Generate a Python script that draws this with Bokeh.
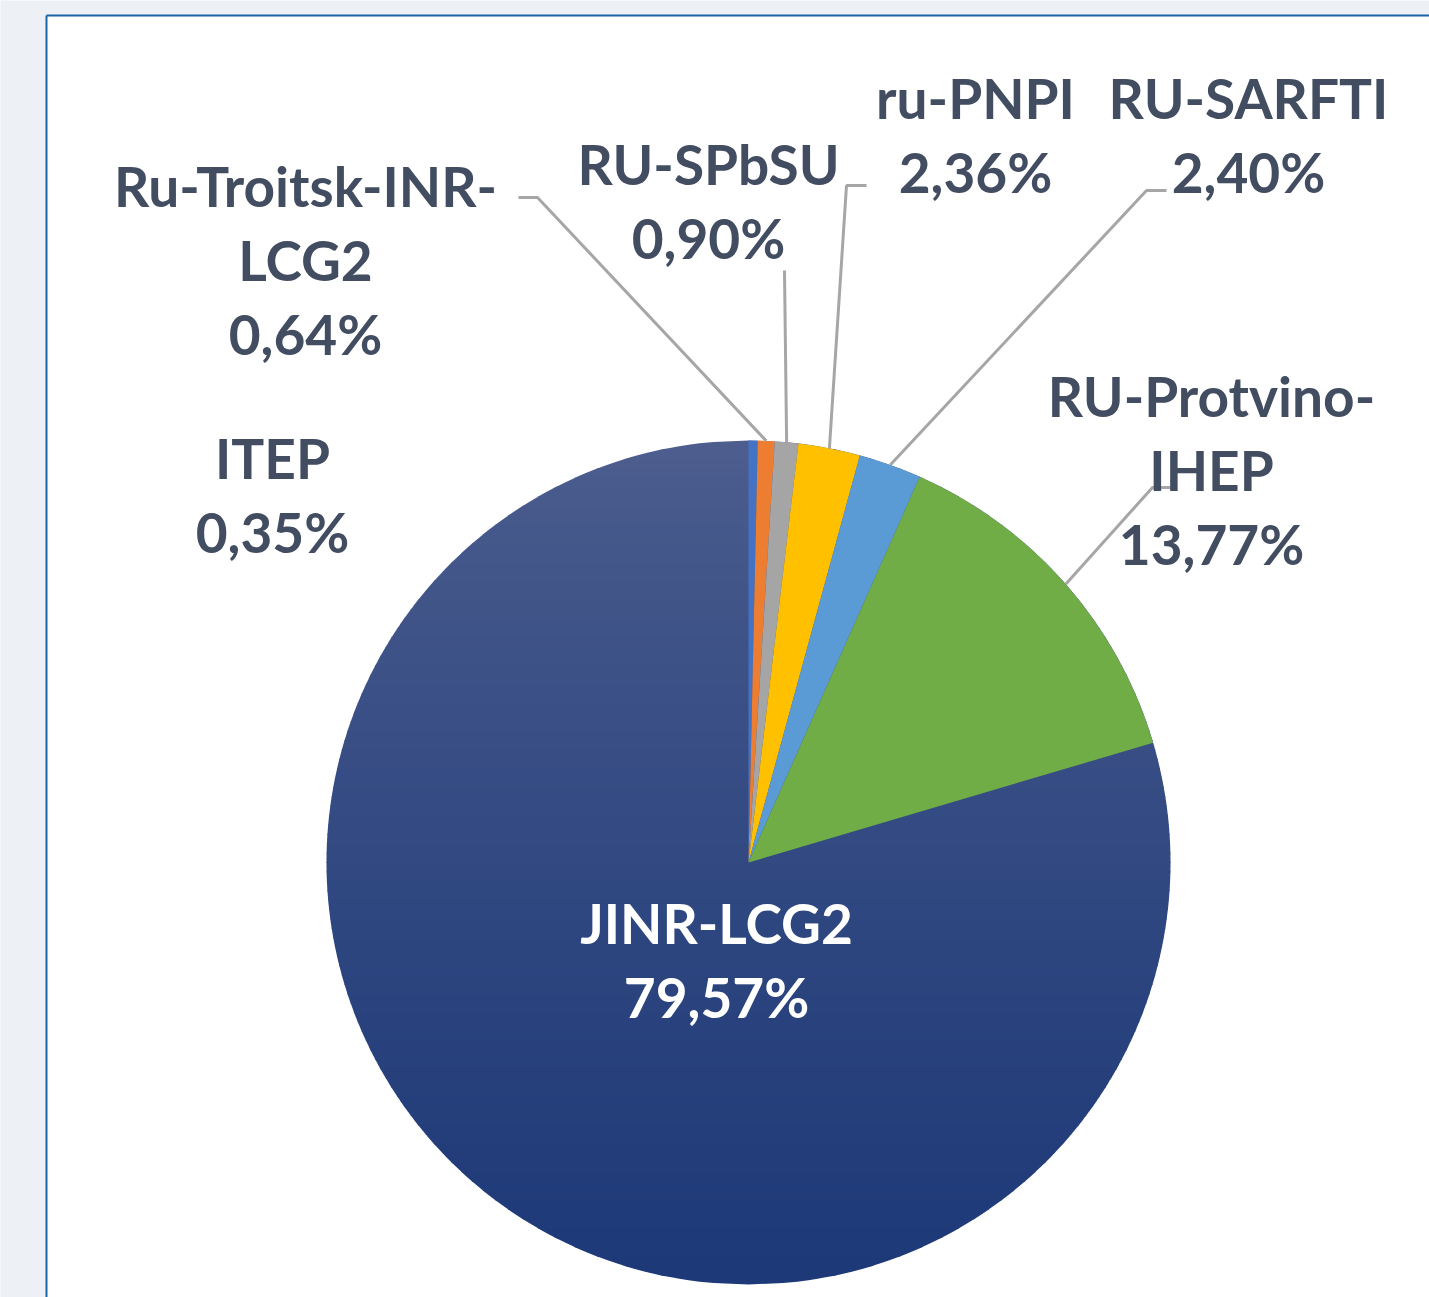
import numpy as np
from bokeh.plotting import figure
from bokeh.models import Range1d
from bokeh.core.properties import value
from bokeh.embed import file_html
from bokeh.resources import INLINE

# ---------------- data ----------------
sites = ["ITEP", "Ru-Troitsk-INR-LCG2", "RU-SPbSU", "ru-PNPI", "RU-SARFTI",
         "RU-Protvino-IHEP", "JINR-LCG2"]
name_lines = [["ITEP"], ["Ru-Troitsk-INR-", "LCG2"], ["RU-SPbSU"], ["ru-PNPI"],
              ["RU-SARFTI"], ["RU-Protvino-", "IHEP"], ["JINR-LCG2"]]
shares = [0.35, 0.64, 0.90, 2.36, 2.40, 13.77, 79.57]
colors = ["#4472c4", "#ed7d31", "#a5a5a5", "#ffc000", "#5b9bd5", "#70ad47", None]

# ---------------- layout ----------------
W, H = 1429, 1297
X0, Y0 = 0, 0
CX, CY, R = 748, 862, 422          # pie centre / radius in page pixels
TEXT = "#424d61"
FONT = value("Lato")
FS = "55px"
LINE_GAP = 74

# label block: (centre x, first line y), text colour
label_pos = [(272, 457), (305, 185), (708, 163), (975, 97), (1248, 97),
             (1211, 395), (716, 922)]
label_col = [TEXT] * 6 + ["#ffffff"]
# leader line elbows (start, elbow) per slice, None = no leader
leaders = [None, [(518, 197), (537, 197)], [(784, 270)], [(866, 185), (846, 185)],
           [(1166, 190), (1146, 190)], [(1170, 487), (1152, 487)], None]

p = figure(width=W, height=H, output_backend="svg", toolbar_location=None,
           x_range=Range1d(X0, X0 + W), y_range=Range1d(-(Y0 + H), -Y0),
           min_border=0)
p.axis.visible = False
p.grid.visible = False
p.outline_line_color = None
p.background_fill_color = "#edf0f4"
p.border_fill_color = "#edf0f4"

# white panel with blue frame
p.quad(left=[46], right=[X0 + W + 5], top=[-15], bottom=[-(Y0 + H + 5)],
       fill_color="white", line_color=None)
p.segment(x0=[46, 46], y0=[-15, -15], x1=[46, X0 + W + 5], y1=[-(Y0 + H + 5), -15],
          line_color="#1a64a8", line_width=2)

# ---------------- JINR slice gradient (circle bands; other slices drawn on top) ----
N = 90
ys = np.linspace(-R, R, N + 1)
top_c = np.array([0x4e, 0x5f, 0x8f])
bot_c = np.array([0x1d, 0x39, 0x78])
xs_list, ys_list, band_cols = [], [], []
for i in range(N):
    lo, hi = ys[i] - 0.6, ys[i + 1] + 0.6
    lo, hi = max(lo, -R), min(hi, R)
    t = np.linspace(lo, hi, 8)
    xr = np.sqrt(np.clip(R * R - t * t, 0, None))
    px = np.concatenate([CX + xr, (CX - xr)[::-1]])
    py = np.concatenate([-CY + t, (-CY + t)[::-1]])
    xs_list.append(list(px))
    ys_list.append(list(py))
    f = (ys[i] + ys[i + 1]) / 2
    f = (R - f) / (2 * R)  # 0 at top, 1 at bottom
    f = f ** 0.8
    c = (top_c * (1 - f) + bot_c * f).astype(int)
    band_cols.append("#%02x%02x%02x" % tuple(c))
p.patches(xs=xs_list, ys=ys_list, fill_color=band_cols, line_color=None)

# ---------------- other slices ----------------
total = sum(shares)
cum = np.concatenate([[0], np.cumsum(shares)]) / total * 2 * np.pi  # clockwise from top
starts, ends, wcols = [], [], []
for i in range(len(shares) - 1):
    starts.append(np.pi / 2 - cum[i + 1])
    ends.append(np.pi / 2 - cum[i])
    wcols.append(colors[i])
p.wedge(x=[CX] * len(starts), y=[-CY] * len(starts), radius=R,
        start_angle=starts, end_angle=ends, fill_color=wcols, line_color=None)

# ---------------- leader lines ----------------
for i, pts in enumerate(leaders):
    if pts is None:
        continue
    mid = (cum[i] + cum[i + 1]) / 2
    ex = CX + R * np.sin(mid)
    ey = CY - R * np.cos(mid)
    lx = [q[0] for q in pts] + [ex]
    ly = [-q[1] for q in pts] + [-ey]
    p.line(lx, ly, line_color="#a6a6a6", line_width=3)

# ---------------- labels ----------------
for i in range(len(shares)):
    lines = name_lines[i] + [f"{shares[i]:.2f}".replace(".", ",") + "%"]
    cx, cy = label_pos[i]
    p.text(x=[cx] * len(lines), y=[-(cy + k * LINE_GAP) for k in range(len(lines))],
           text=lines, text_font=FONT, text_font_style="bold",
           text_font_size=FS, text_color=label_col[i],
           text_align="center", text_baseline="middle")

open("out.html", "w").write(file_html(p, INLINE))
